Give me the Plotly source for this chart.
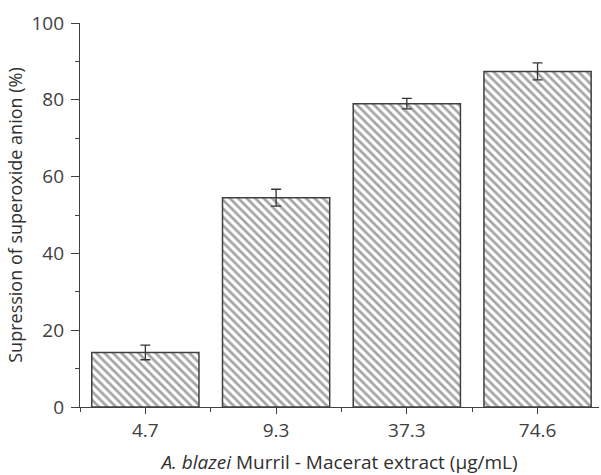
import plotly.graph_objects as go

categories = ["4.7", "9.3", "37.3", "74.6"]
values = [14.2, 54.5, 79.0, 87.4]
errors = [1.9, 2.2, 1.35, 2.2]
y_tick_vals = [0, 20, 40, 60, 80, 100]

x_pos = list(range(len(categories)))

fig = go.Figure()
fig.add_trace(go.Bar(
    x=x_pos, y=values, width=0.82,
    marker=dict(color="white",
                line=dict(color="#404040", width=1.5),
                pattern=dict(shape="\\", fgcolor="#4a4a4a", bgcolor="white",
                             size=6, solidity=0.45)),
    error_y=dict(type="data", array=errors, visible=True,
                 color="#333333", thickness=1.3, width=5),
    showlegend=False,
))

font_family = "Open Sans"
fig.update_layout(
    width=601, height=475,
    margin=dict(l=80, r=2, t=23, b=68),
    paper_bgcolor="white", plot_bgcolor="white",
    font=dict(family=font_family, color="#404040", size=16),
)
fig.update_xaxes(
    automargin=False,
    range=[-0.5, 3.47],
    tickmode="array", tickvals=x_pos, ticktext=categories,
    ticks="outside", ticklen=6, tickwidth=1, tickcolor="#404040",
    tickfont=dict(size=19, color="#404040"),
    minor=dict(tickmode="linear", tick0=-0.5, dtick=1, ticks="outside",
               ticklen=4, tickwidth=1, tickcolor="#404040"),
    showline=True, linecolor="#404040", linewidth=1.3,
    showgrid=False, zeroline=False,
    title=dict(text="<i>A. blazei</i> Murril - Macerat extract (µg/mL)",
               font=dict(size=19, color="#303030"), standoff=14),
)
fig.update_yaxes(
    automargin=False,
    range=[0, 100],
    tickmode="array", tickvals=y_tick_vals,
    ticks="outside", ticklen=8, tickwidth=1, tickcolor="#404040",
    tickfont=dict(size=19, color="#404040"),
    ticklabelstandoff=3,
    minor=dict(tickmode="linear", tick0=0, dtick=10, ticks="outside",
               ticklen=4, tickwidth=1, tickcolor="#404040"),
    showline=True, linecolor="#404040", linewidth=1.3,
    showgrid=False, zeroline=False,
    title=dict(text="Supression of superoxide anion (%)",
               font=dict(size=18, color="#303030"), standoff=4),
)

fig.write_html(
    "out.html",
    config={"displayModeBar": False},
    post_script="document.body.style.margin='0';document.body.style.overflow='hidden';",
)
